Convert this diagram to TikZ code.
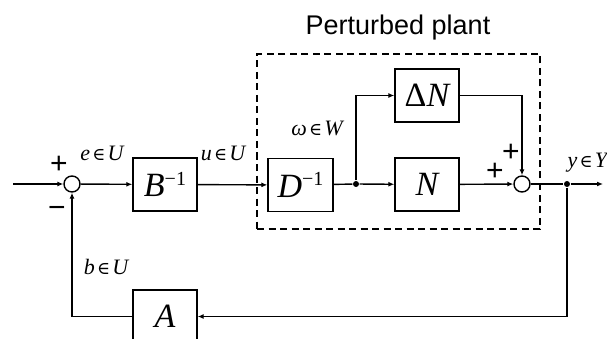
\documentclass[tikz,border=0pt]{standalone}
\usepackage{fontspec}
\setmainfont{Liberation Serif}
\newfontfamily\timit{Liberation Serif Italic}
\newfontfamily\arialf{Liberation Sans}
\newfontfamily\dejav{DejaVu Serif}
\usetikzlibrary{arrows.meta}
\newcommand{\vi}[1]{{\timit #1}}
\newcommand{\elem}{\hspace{0.1em}{\dejav\fontsize{0.8em}{1em}\selectfont ∈}\hspace{0.1em}}
\begin{document}
\begin{tikzpicture}[x=1pt,y=-1pt,line width=1.4pt,
  blk/.style={draw,minimum width=64pt,minimum height=53pt,inner sep=0pt,font=\fontsize{34}{34}\selectfont},
  sumc/.style={draw,circle,minimum size=16pt,inner sep=0pt},
  arr/.style={-{Latex[length=6pt,width=5pt]}},
  lbl/.style={inner sep=0pt,font=\fontsize{22}{22}\selectfont},
  sgn/.style={inner sep=0pt,font=\arialf\fontsize{30}{30}\selectfont},
  dot/.style={circle,fill,inner sep=0pt,minimum size=6pt}]
\useasboundingbox (0,0) rectangle (607,339);
\begin{scope}
\clip (0,0) rectangle (607,339);
% dashed plant box
\node[draw,dashed,dash pattern=on 7pt off 4.5pt,line width=1.5pt,minimum width=283pt,minimum height=175pt,inner sep=0pt] (plant) at (398.5,141.5) {};
\node[anchor=base,inner sep=0pt,font=\arialf\fontsize{27}{27}\selectfont] (title) at (398,35) {Perturbed plant};
% blocks
\node[blk] (B) at (165,184.5) {\vi{B}\raisebox{0.75ex}{\fontsize{20}{20}\selectfont −1}};
\node[blk,minimum width=65pt] (D) at (300.5,185) {\vi{D}\raisebox{0.75ex}{\fontsize{20}{20}\selectfont −1}};
\node[blk] (dN) at (427,95.5) {Δ\vi{N}};
\node[blk] (N) at (427,184.5) {\vi{N}};
\node[blk] (A) at (165,316.5) {\vi{A}};
\node[sumc] (s1) at (72,184) {};
\node[sumc] (s2) at (522,184) {};
\node[dot] (j) at (356,184) {};
\node[dot] (o) at (567,184) {};
\coordinate (in) at (13,184);
\coordinate (out) at (603,184);
% connectors
\draw[arr] (in) -- (s1);
\draw[arr] (s1) -- (B);
\draw[arr] (B) -- (D);
\draw (D) -- (j);
\draw[arr] (j) -- (N);
\draw[arr] (j) |- (dN);
\draw[arr] (N) -- (s2);
\draw[arr] (dN) -| (s2);
\draw (s2) -- (o);
\draw[arr] (o) -- (out);
\draw[arr] (o) |- (A.east);
\draw[arr] (A.west) -| (s1);
% labels
\node[lbl] (le) at (102,153) {\vi{e}\elem\vi{U}};
\node[lbl] (lu) at (223,153) {\vi{u}\elem\vi{U}};
\node[lbl] (lw) at (317,128) {\vi{ω}\elem\vi{W}};
\node[lbl] (lb) at (106,267) {\vi{b}\elem\vi{U}};
\node[lbl,anchor=west] (ly) at (567,163) {\vi{y}\elem\vi{Y}};
\node[sgn] (p1) at (59,165) {+};
\node[sgn] (m1) at (57,212) {−};
\node[sgn] (p2) at (511,153) {+};
\node[sgn] (p3) at (495,172) {+};
\end{scope}
\end{tikzpicture}
\end{document}
